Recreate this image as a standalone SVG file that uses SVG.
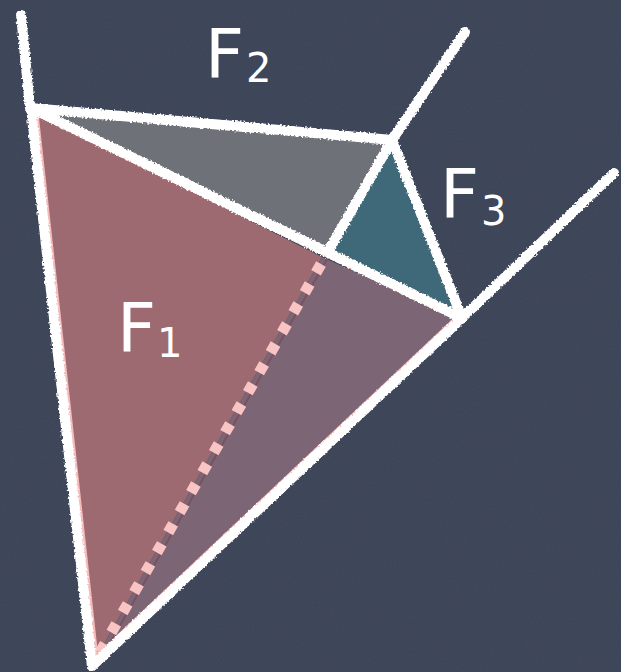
<svg xmlns="http://www.w3.org/2000/svg" width="621" height="672" viewBox="0 0 621 672">
  <style>
    .chalk { stroke: #ffffff; stroke-width: 10; stroke-linecap: round; stroke-linejoin: round; fill: none; }
    .lbl { font-family: "DejaVu Sans", "Noto Sans", sans-serif; fill: #ffffff; font-size: 68px; }
    .sub { font-size: 40px; }
  </style>
  <defs>
    <filter id="noise" x="0" y="0" width="100%" height="100%">
      <feTurbulence type="fractalNoise" baseFrequency="0.9" numOctaves="2" seed="3" result="n"/>
      <feColorMatrix in="n" type="matrix" values="0 0 0 0 0.45  0 0 0 0 0.48  0 0 0 0 0.56  0 0 0 0.07 0"/>
    </filter>
    <filter id="rough" x="-5%" y="-5%" width="110%" height="110%">
      <feTurbulence type="fractalNoise" baseFrequency="0.5" numOctaves="2" seed="7" result="t"/>
      <feDisplacementMap in="SourceGraphic" in2="t" scale="4" xChannelSelector="R" yChannelSelector="G"/>
    </filter>
  </defs>

  <g id="background">
    <rect width="621" height="672" fill="#3a4255"/>
    <rect width="621" height="672" filter="url(#noise)"/>
  </g>

  <g id="face-F2">
    <polygon points="33,108 392,140 329,250" fill="#6e7177"/>
  </g>
  <g id="face-F3">
    <polygon points="392,142 329,250 462,318" fill="#3f6878"/>
  </g>
  <g id="face-F1">
    <polygon points="36,113 322,257 96,658" fill="#9c6a70"/>
    <polygon points="322,257 457,318 96,658" fill="#7c6675"/>
    <polygon points="36,113 457,318 96,658" fill="none" stroke="#f5baba" stroke-width="5" stroke-linejoin="round"/>
    <line x1="327" y1="259" x2="104" y2="654" stroke="#7a4855" stroke-width="2" opacity="0.7"/>
    <line x1="321" y1="264" x2="98" y2="656" stroke="#f9c4c4" stroke-width="11" stroke-dasharray="10 13"/>
  </g>

  <g id="connectors" filter="url(#rough)">
    <line class="chalk" x1="21" y1="15" x2="30" y2="108"/>
    <polyline class="chalk" points="31,108 392,140 465,32"/>
    <line class="chalk" x1="31" y1="108" x2="462" y2="318"/>
    <line class="chalk" x1="392" y1="140" x2="329" y2="250"/>
    <line class="chalk" x1="392" y1="140" x2="462" y2="318"/>
    <line class="chalk" x1="462" y1="318" x2="614" y2="173"/>
    <line class="chalk" x1="462" y1="318" x2="92" y2="666"/>
    <line class="chalk" x1="31" y1="108" x2="92" y2="666"/>
  </g>

  <g id="label-F2">
    <text class="lbl" x="205" y="78">F<tspan class="sub" x="246" y="82">2</tspan></text>
  </g>
  <g id="label-F3">
    <text class="lbl" x="440" y="218">F<tspan class="sub" x="481" y="225">3</tspan></text>
  </g>
  <g id="label-F1">
    <text class="lbl" x="117" y="352">F<tspan class="sub" x="157" y="357">1</tspan></text>
  </g>
</svg>
